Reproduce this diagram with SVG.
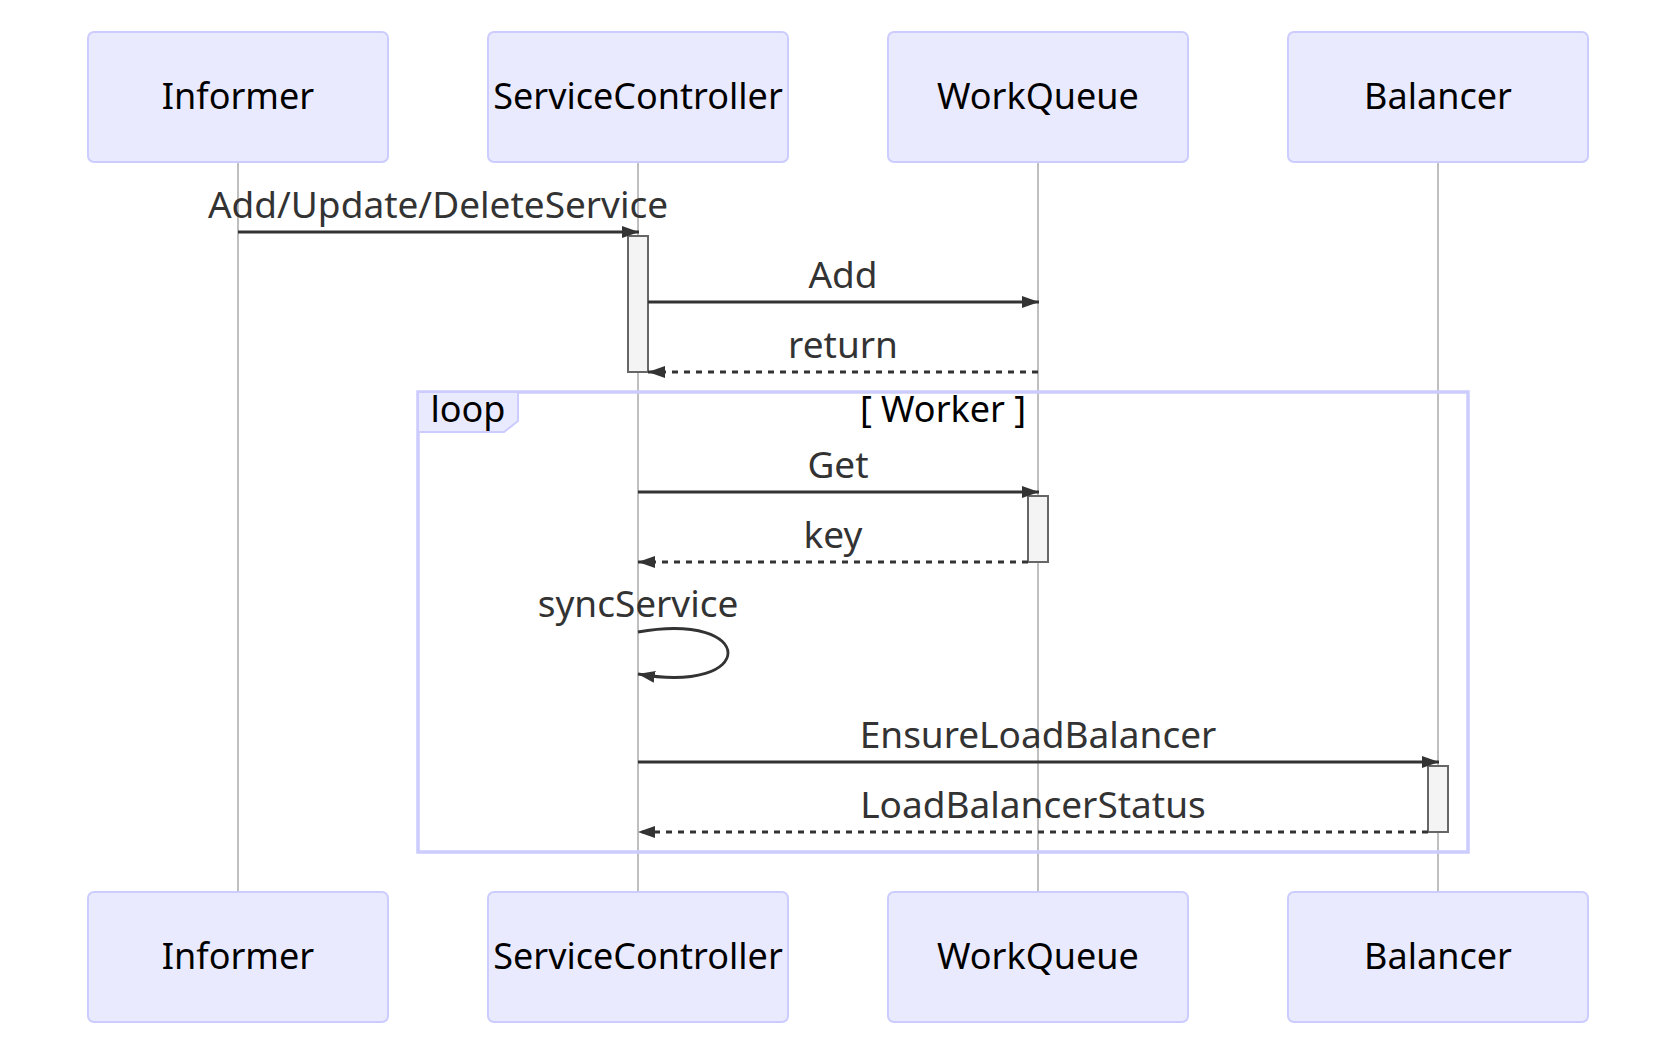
<svg xmlns="http://www.w3.org/2000/svg" width="1654" height="1048" viewBox="0 0 1654 1048">
<style>
.actor{fill:#eaeaff;stroke:#ccccff;stroke-width:2}
.atext{font-family:"Noto Sans",sans-serif;font-size:36px;fill:#000;text-anchor:middle}
.life{stroke:#aaaaaa;stroke-width:1.5}
.msg{stroke:#333;stroke-width:2.8;fill:none}
.dash{stroke-dasharray:6,6}
.mtext{font-family:"Noto Sans",sans-serif;font-size:37px;fill:#333;text-anchor:middle}
.act{fill:#f4f4f4;stroke:#666;stroke-width:2}
.loopline{stroke:#ccccff;stroke-width:3.5;fill:none}
.loopbox{fill:#eaeaff;stroke:#ccccff;stroke-width:2}
.ltext{font-family:"Noto Sans",sans-serif;font-size:36px;fill:#000;text-anchor:middle}
</style>
<defs>
<marker id="ah" markerUnits="userSpaceOnUse" markerWidth="18" markerHeight="14" refX="17" refY="6" orient="auto">
<path d="M0,0 L17,6 L0,12 z" fill="#333"/>
</marker>
</defs>
<rect width="1654" height="1048" fill="#fff"/>
<g id="lifelines">
<line class="life" x1="238" y1="162" x2="238" y2="892"/>
<line class="life" x1="638" y1="162" x2="638" y2="892"/>
<line class="life" x1="1038" y1="162" x2="1038" y2="892"/>
<line class="life" x1="1438" y1="162" x2="1438" y2="892"/>
</g>
<g id="actor-informer">
<rect class="actor" x="88" y="32" width="300" height="130" rx="6"/>
<text class="atext" x="238" y="109">Informer</text>
</g>
<g id="actor-servicecontroller">
<rect class="actor" x="488" y="32" width="300" height="130" rx="6"/>
<text class="atext" x="638" y="109">ServiceController</text>
</g>
<g id="actor-workqueue">
<rect class="actor" x="888" y="32" width="300" height="130" rx="6"/>
<text class="atext" x="1038" y="109">WorkQueue</text>
</g>
<g id="actor-balancer">
<rect class="actor" x="1288" y="32" width="300" height="130" rx="6"/>
<text class="atext" x="1438" y="109">Balancer</text>
</g>
<g id="actor-informer-bottom">
<rect class="actor" x="88" y="892" width="300" height="130" rx="6"/>
<text class="atext" x="238" y="969">Informer</text>
</g>
<g id="actor-servicecontroller-bottom">
<rect class="actor" x="488" y="892" width="300" height="130" rx="6"/>
<text class="atext" x="638" y="969">ServiceController</text>
</g>
<g id="actor-workqueue-bottom">
<rect class="actor" x="888" y="892" width="300" height="130" rx="6"/>
<text class="atext" x="1038" y="969">WorkQueue</text>
</g>
<g id="actor-balancer-bottom">
<rect class="actor" x="1288" y="892" width="300" height="130" rx="6"/>
<text class="atext" x="1438" y="969">Balancer</text>
</g>
<g id="loop">
<rect class="loopline" x="418" y="392" width="1050" height="460"/>
<polygon class="loopbox" points="418,392 518,392 518,421 504,432 418,432"/>
<text class="ltext" x="468" y="422">loop</text>
<text class="ltext" x="943" y="422">[ Worker ]</text>
</g>
<g id="activations">
<rect class="act" x="628" y="236" width="20" height="136"/>
<rect class="act" x="1028" y="496" width="20" height="66"/>
<rect class="act" x="1428" y="766" width="20" height="66"/>
</g>
<g id="connectors">
<line class="msg" x1="238" y1="232" x2="639" y2="232" marker-end="url(#ah)"/>
<text class="mtext" x="438" y="218">Add/Update/DeleteService</text>
<line class="msg" x1="648" y1="302" x2="1039" y2="302" marker-end="url(#ah)"/>
<text class="mtext" x="843" y="288">Add</text>
<line class="msg dash" x1="1038" y1="372" x2="648" y2="372" marker-end="url(#ah)"/>
<text class="mtext" x="843" y="358">return</text>
<line class="msg" x1="638" y1="492" x2="1039" y2="492" marker-end="url(#ah)"/>
<text class="mtext" x="838" y="478">Get</text>
<line class="msg dash" x1="1028" y1="562" x2="638" y2="562" marker-end="url(#ah)"/>
<text class="mtext" x="833" y="548">key</text>
<path class="msg" d="M638,632 C758,611 758,695 638,674" marker-end="url(#ah)"/>
<text class="mtext" x="638" y="617">syncService</text>
<line class="msg" x1="638" y1="762" x2="1439" y2="762" marker-end="url(#ah)"/>
<text class="mtext" x="1038" y="748">EnsureLoadBalancer</text>
<line class="msg dash" x1="1428" y1="832" x2="638" y2="832" marker-end="url(#ah)"/>
<text class="mtext" x="1033" y="818">LoadBalancerStatus</text>
</g>
</svg>
